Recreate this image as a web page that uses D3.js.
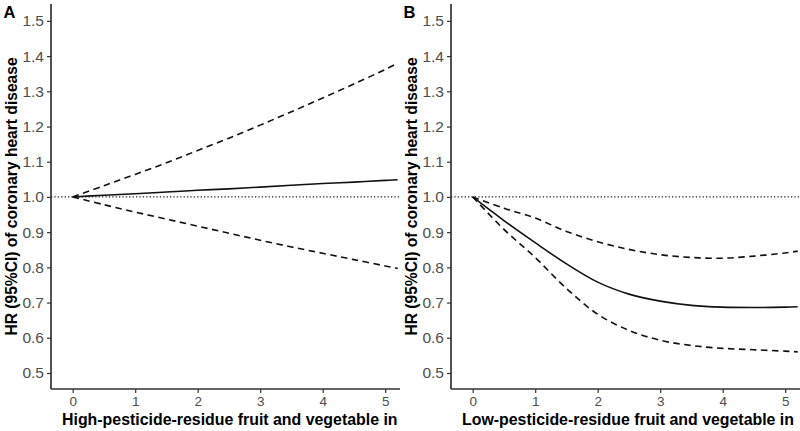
<!DOCTYPE html>
<html><head><meta charset="utf-8">
<script src="https://cdn.jsdelivr.net/npm/d3@7"></script>
<style>body{margin:0;background:#fff}svg{display:block}</style>
</head><body><svg id="c" width="800" height="431"></svg>
<script>
const xVals = [0, 0.5, 1, 1.5, 2, 2.5, 3, 3.5, 4, 4.5, 5, 5.2];
const highHR    = [1.000, 1.005, 1.009, 1.014, 1.019, 1.023, 1.028, 1.033, 1.038, 1.042, 1.047, 1.049];
const highUpper = [1.000, 1.032, 1.064, 1.097, 1.132, 1.167, 1.204, 1.242, 1.281, 1.321, 1.362, 1.380];
const highLower = [1.000, 0.978, 0.957, 0.937, 0.917, 0.897, 0.877, 0.858, 0.840, 0.822, 0.804, 0.797];
const lowHR     = [1.000, 0.933, 0.870, 0.810, 0.758, 0.724, 0.704, 0.692, 0.687, 0.686, 0.687, 0.688];
const lowUpper  = [1.000, 0.968, 0.940, 0.902, 0.873, 0.851, 0.836, 0.828, 0.826, 0.832, 0.841, 0.846];
const lowLower  = [1.000, 0.908, 0.828, 0.740, 0.667, 0.621, 0.593, 0.578, 0.570, 0.566, 0.562, 0.560];
const xTicks = [0, 1, 2, 3, 4, 5];
const yTicks = [0.5, 0.6, 0.7, 0.8, 0.9, 1.0, 1.1, 1.2, 1.3, 1.4, 1.5];
const panels = [
  {tag: "A", title: "High-pesticide-residue fruit and vegetable in", hr: highHR, up: highUpper, lo: highLower},
  {tag: "B", title: "Low-pesticide-residue fruit and vegetable in", hr: lowHR, up: lowUpper, lo: lowLower}
];
const yTitle = "HR (95%CI) of coronary heart disease";

const svg = d3.select("#c");
const defs = svg.append("defs");
const FONT = "'Liberation Sans', Arial, sans-serif";
panels.forEach((p, i) => {
  const ox = i * 400;
  defs.append("clipPath").attr("id", "clip" + i).append("rect").attr("x", 0).attr("y", 0).attr("width", 400).attr("height", 431);
  const g = svg.append("g").attr("transform", `translate(${ox},0)`).attr("clip-path", `url(#clip${i})`);
  const left = 51, top = 4, bottom = 389;
  const x = d3.scaleLinear().domain([-0.347, 5.2]).range([left, left + 5.547 * 62.5]);
  const y = d3.scaleLinear().domain([0.4545, 1.548]).range([bottom, top]);

  // reference line
  g.append("line").attr("x1", left).attr("x2", 420).attr("y1", y(1)).attr("y2", y(1))
    .attr("stroke", "#222").attr("stroke-width", 1.3).attr("stroke-dasharray", "1.3,2.1");

  const line = d3.line().x((d, k) => x(xVals[k])).y(d => y(d)).curve(d3.curveCatmullRom.alpha(0.5));
  g.append("path").attr("d", line(p.up)).attr("fill", "none").attr("stroke", "#111").attr("stroke-width", 1.6).attr("stroke-dasharray", "6.5,4.5");
  g.append("path").attr("d", line(p.lo)).attr("fill", "none").attr("stroke", "#111").attr("stroke-width", 1.6).attr("stroke-dasharray", "6.5,4.5");
  g.append("path").attr("d", line(p.hr)).attr("fill", "none").attr("stroke", "#111").attr("stroke-width", 1.6);

  // axes
  const ya = g.append("g").attr("transform", `translate(${left},0)`)
    .call(d3.axisLeft(y).tickValues(yTicks).tickFormat(d3.format(".1f")).tickSize(4).tickPadding(3));
  ya.select(".domain").attr("d", `M0,${top}V${bottom}`).attr("stroke", "#333").attr("stroke-width", 1.7);
  ya.selectAll(".tick line").attr("stroke", "#333").attr("stroke-width", 1.2);
  ya.selectAll(".tick text").attr("fill", "#4d4d4d").style("font", `15.5px ${FONT}`);

  const xa = g.append("g").attr("transform", `translate(0,${bottom})`)
    .call(d3.axisBottom(x).tickValues(xTicks).tickFormat(d3.format("d")).tickSize(4).tickPadding(3));
  xa.select(".domain").attr("d", `M${left},0H420`).attr("stroke", "#333").attr("stroke-width", 1.7);
  xa.selectAll(".tick line").attr("stroke", "#333").attr("stroke-width", 1.2);
  xa.selectAll(".tick text").attr("fill", "#4d4d4d").style("font", `13.5px ${FONT}`);

  g.append("text").attr("x", 62).attr("y", 425).text(p.title)
    .style("font", `bold 15.9px ${FONT}`).attr("fill", "#000");
  g.append("text").attr("transform", `translate(16.5,${(top + bottom) / 2}) rotate(-90)`).attr("text-anchor", "middle")
    .text(yTitle).style("font", `bold 15.6px ${FONT}`).attr("fill", "#000");
  g.append("text").attr("x", 3.5).attr("y", 18).text(p.tag)
    .style("font", `bold 16.5px ${FONT}`).attr("fill", "#000");
});
</script></body></html>
